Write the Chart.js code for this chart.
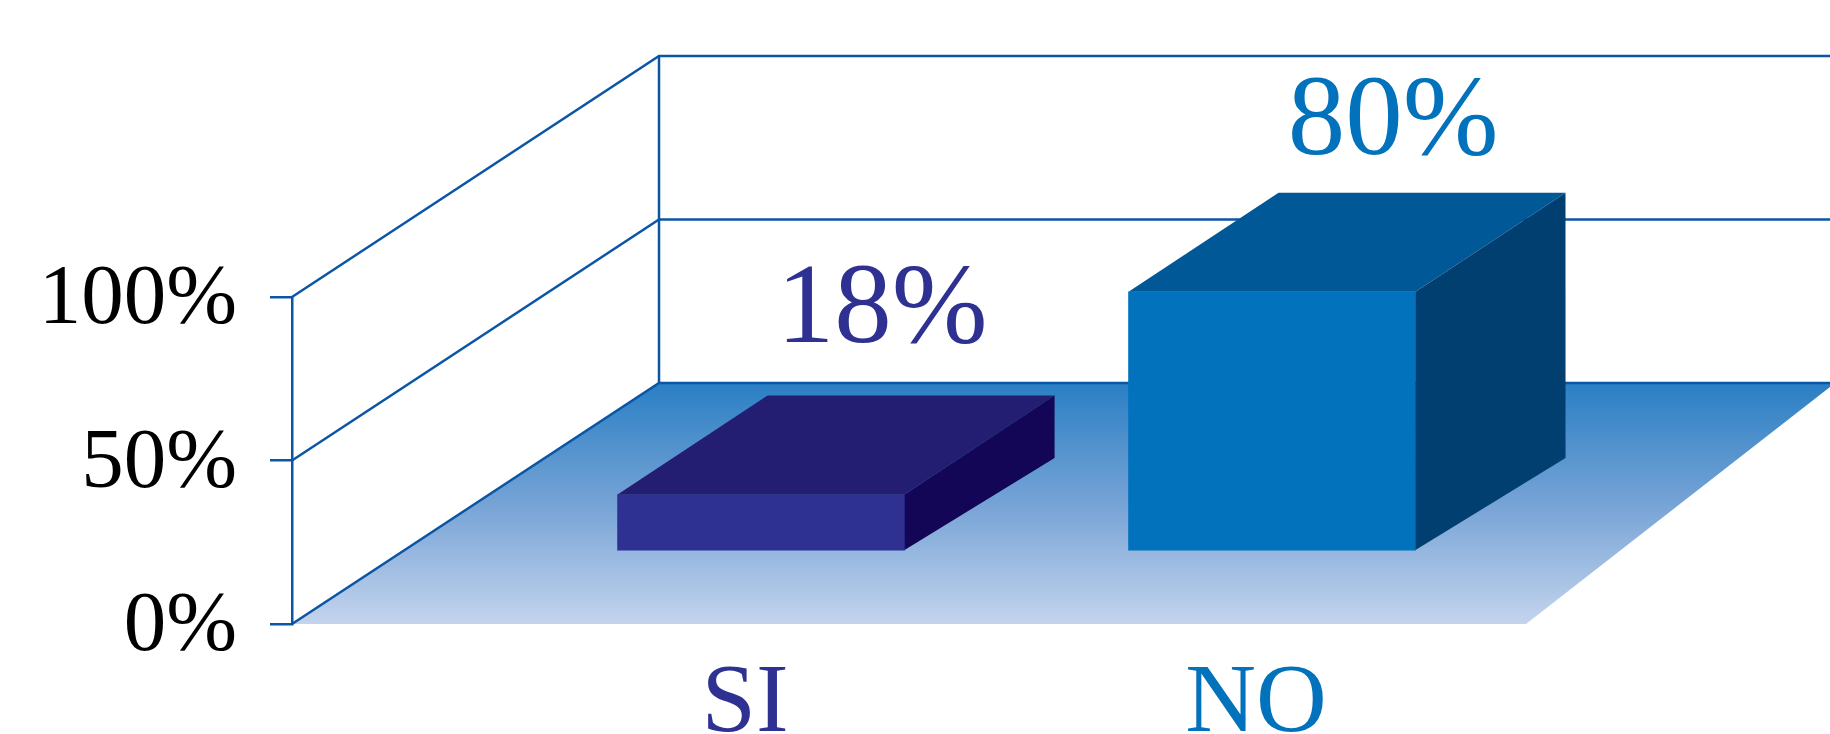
<!DOCTYPE html>
<html>
<head>
<meta charset="utf-8">
<title>SI / NO</title>
<script src="https://cdn.jsdelivr.net/npm/chart.js@4/dist/chart.umd.js"></script>
<style>
  html, body { margin: 0; padding: 0; background: #fff; overflow: hidden; }
  canvas { display: block; }
</style>
</head>
<body>
<canvas id="chart" width="1830" height="734"></canvas>
<script>
const categories = ['SI', 'NO'];
const percentages = [18, 80];
const yTicks = [0, 50, 100];

const frontColors = ['#2E3192', '#0272BC'];
const topColors = ['#241E72', '#015896'];
const sideColors = ['#130656', '#013F70'];
const lineColor = '#0B55A5';
const serif = "'Liberation Serif', serif";

// how far the back of the room sits from the front of the room
const ROOM_DX = 367;
const ROOM_DY = 241;
// depth of a bar
const BAR_DX = 150;
const BAR_TOP_DY = 99;
const BAR_BOTTOM_DY = 92;
// value labels float above each bar
const LABEL_DX = 121;
const LABEL_LIFT = [153, 138];

function poly(ctx, pts, fill) {
    ctx.beginPath();
    pts.forEach((p, i) => i ? ctx.lineTo(p[0], p[1]) : ctx.moveTo(p[0], p[1]));
    ctx.closePath();
    ctx.fillStyle = fill;
    ctx.fill();
}

const roomPlugin = {
    id: 'room',
    beforeDatasetsDraw(chart) {
        const { ctx, scales: { y }, chartArea, width } = chart;
        const left = chartArea.left;
        const y0 = y.getPixelForValue(0);
        const backX = left + ROOM_DX;
        const backFloor = y0 - ROOM_DY;

        const grad = ctx.createLinearGradient(0, backFloor, 0, y0);
        grad.addColorStop(0, '#2A7FC4');
        grad.addColorStop(0.5, '#76A3D6');
        grad.addColorStop(1, '#C4D4ED');
        poly(ctx, [[left, y0], [backX, backFloor], [width, backFloor], [width, backFloor + 4], [1526, y0]], grad);

        ctx.save();
        ctx.strokeStyle = lineColor;
        ctx.lineWidth = 2.5;
        yTicks.forEach(v => {
            const py = y.getPixelForValue(v);
            ctx.beginPath();
            ctx.moveTo(left, py);
            ctx.lineTo(backX, py - ROOM_DY);
            ctx.lineTo(width, py - ROOM_DY);
            ctx.stroke();
        });
        ctx.beginPath();
        ctx.moveTo(backX, y.getPixelForValue(100) - ROOM_DY);
        ctx.lineTo(backX, backFloor);
        ctx.stroke();
        ctx.restore();
    },
    afterDatasetsDraw(chart) {
        const { ctx } = chart;
        chart.getDatasetMeta(0).data.forEach((bar, i) => {
            const l = bar.x - bar.width / 2;
            const r = bar.x + bar.width / 2;
            poly(ctx, [[l, bar.y], [l + BAR_DX, bar.y - BAR_TOP_DY], [r + BAR_DX, bar.y - BAR_TOP_DY], [r, bar.y]], topColors[i]);
            poly(ctx, [[r, bar.y], [r + BAR_DX, bar.y - BAR_TOP_DY], [r + BAR_DX, bar.base - BAR_BOTTOM_DY], [r, bar.base]], sideColors[i]);

            ctx.save();
            ctx.font = '115px ' + serif;
            ctx.fillStyle = frontColors[i];
            ctx.textAlign = 'center';
            ctx.textBaseline = 'alphabetic';
            ctx.fillText(percentages[i] + '%', bar.x + LABEL_DX, bar.y - LABEL_LIFT[i]);
            ctx.restore();
        });
    }
};

new Chart(document.getElementById('chart'), {
    type: 'bar',
    data: {
        datasets: [{
            data: categories.map((c, i) => ({ x: i + 1, y: percentages[i] })),
            backgroundColor: frontColors,
            barThickness: 287,
            base: 1,
            clip: false,
            yAxisID: 'yBars'
        }]
    },
    options: {
        responsive: false,
        animation: false,
        devicePixelRatio: 1,
        layout: { padding: { top: 297, left: 0, right: 0, bottom: 0 } },
        plugins: { legend: { display: false }, tooltip: { enabled: false } },
        scales: {
            x: {
                type: 'linear',
                offset: false,
                min: 0.082,
                max: 3.092,
                grid: { display: false },
                border: { display: false },
                afterFit(scale) { scale.height = 110; },
                afterBuildTicks(scale) { scale.ticks = categories.map((c, i) => ({ value: i + 1 })); },
                ticks: {
                    autoSkip: false,
                    maxRotation: 0,
                    padding: 14,
                    labelOffset: -16,
                    font: { family: serif, size: 98 },
                    color: ctx => frontColors[ctx.index],
                    callback: v => categories[v - 1]
                }
            },
            y: {
                min: 0,
                max: 100,
                afterFit(scale) { scale.width = 292; },
                afterBuildTicks(scale) { scale.ticks = yTicks.map(v => ({ value: v })); },
                grid: { drawOnChartArea: false, color: lineColor, lineWidth: 2.5, tickLength: 22 },
                border: { color: lineColor, width: 2.5 },
                ticks: {
                    padding: 33,
                    labelOffset: 4,
                    font: { family: serif, size: 85 },
                    color: '#000',
                    callback: v => v + '%'
                }
            },
            // same units as y, the bars stand further back on the floor
            yBars: {
                display: false,
                min: -21.6,
                max: 78.4
            }
        }
    },
    plugins: [roomPlugin]
});
</script>
</body>
</html>
